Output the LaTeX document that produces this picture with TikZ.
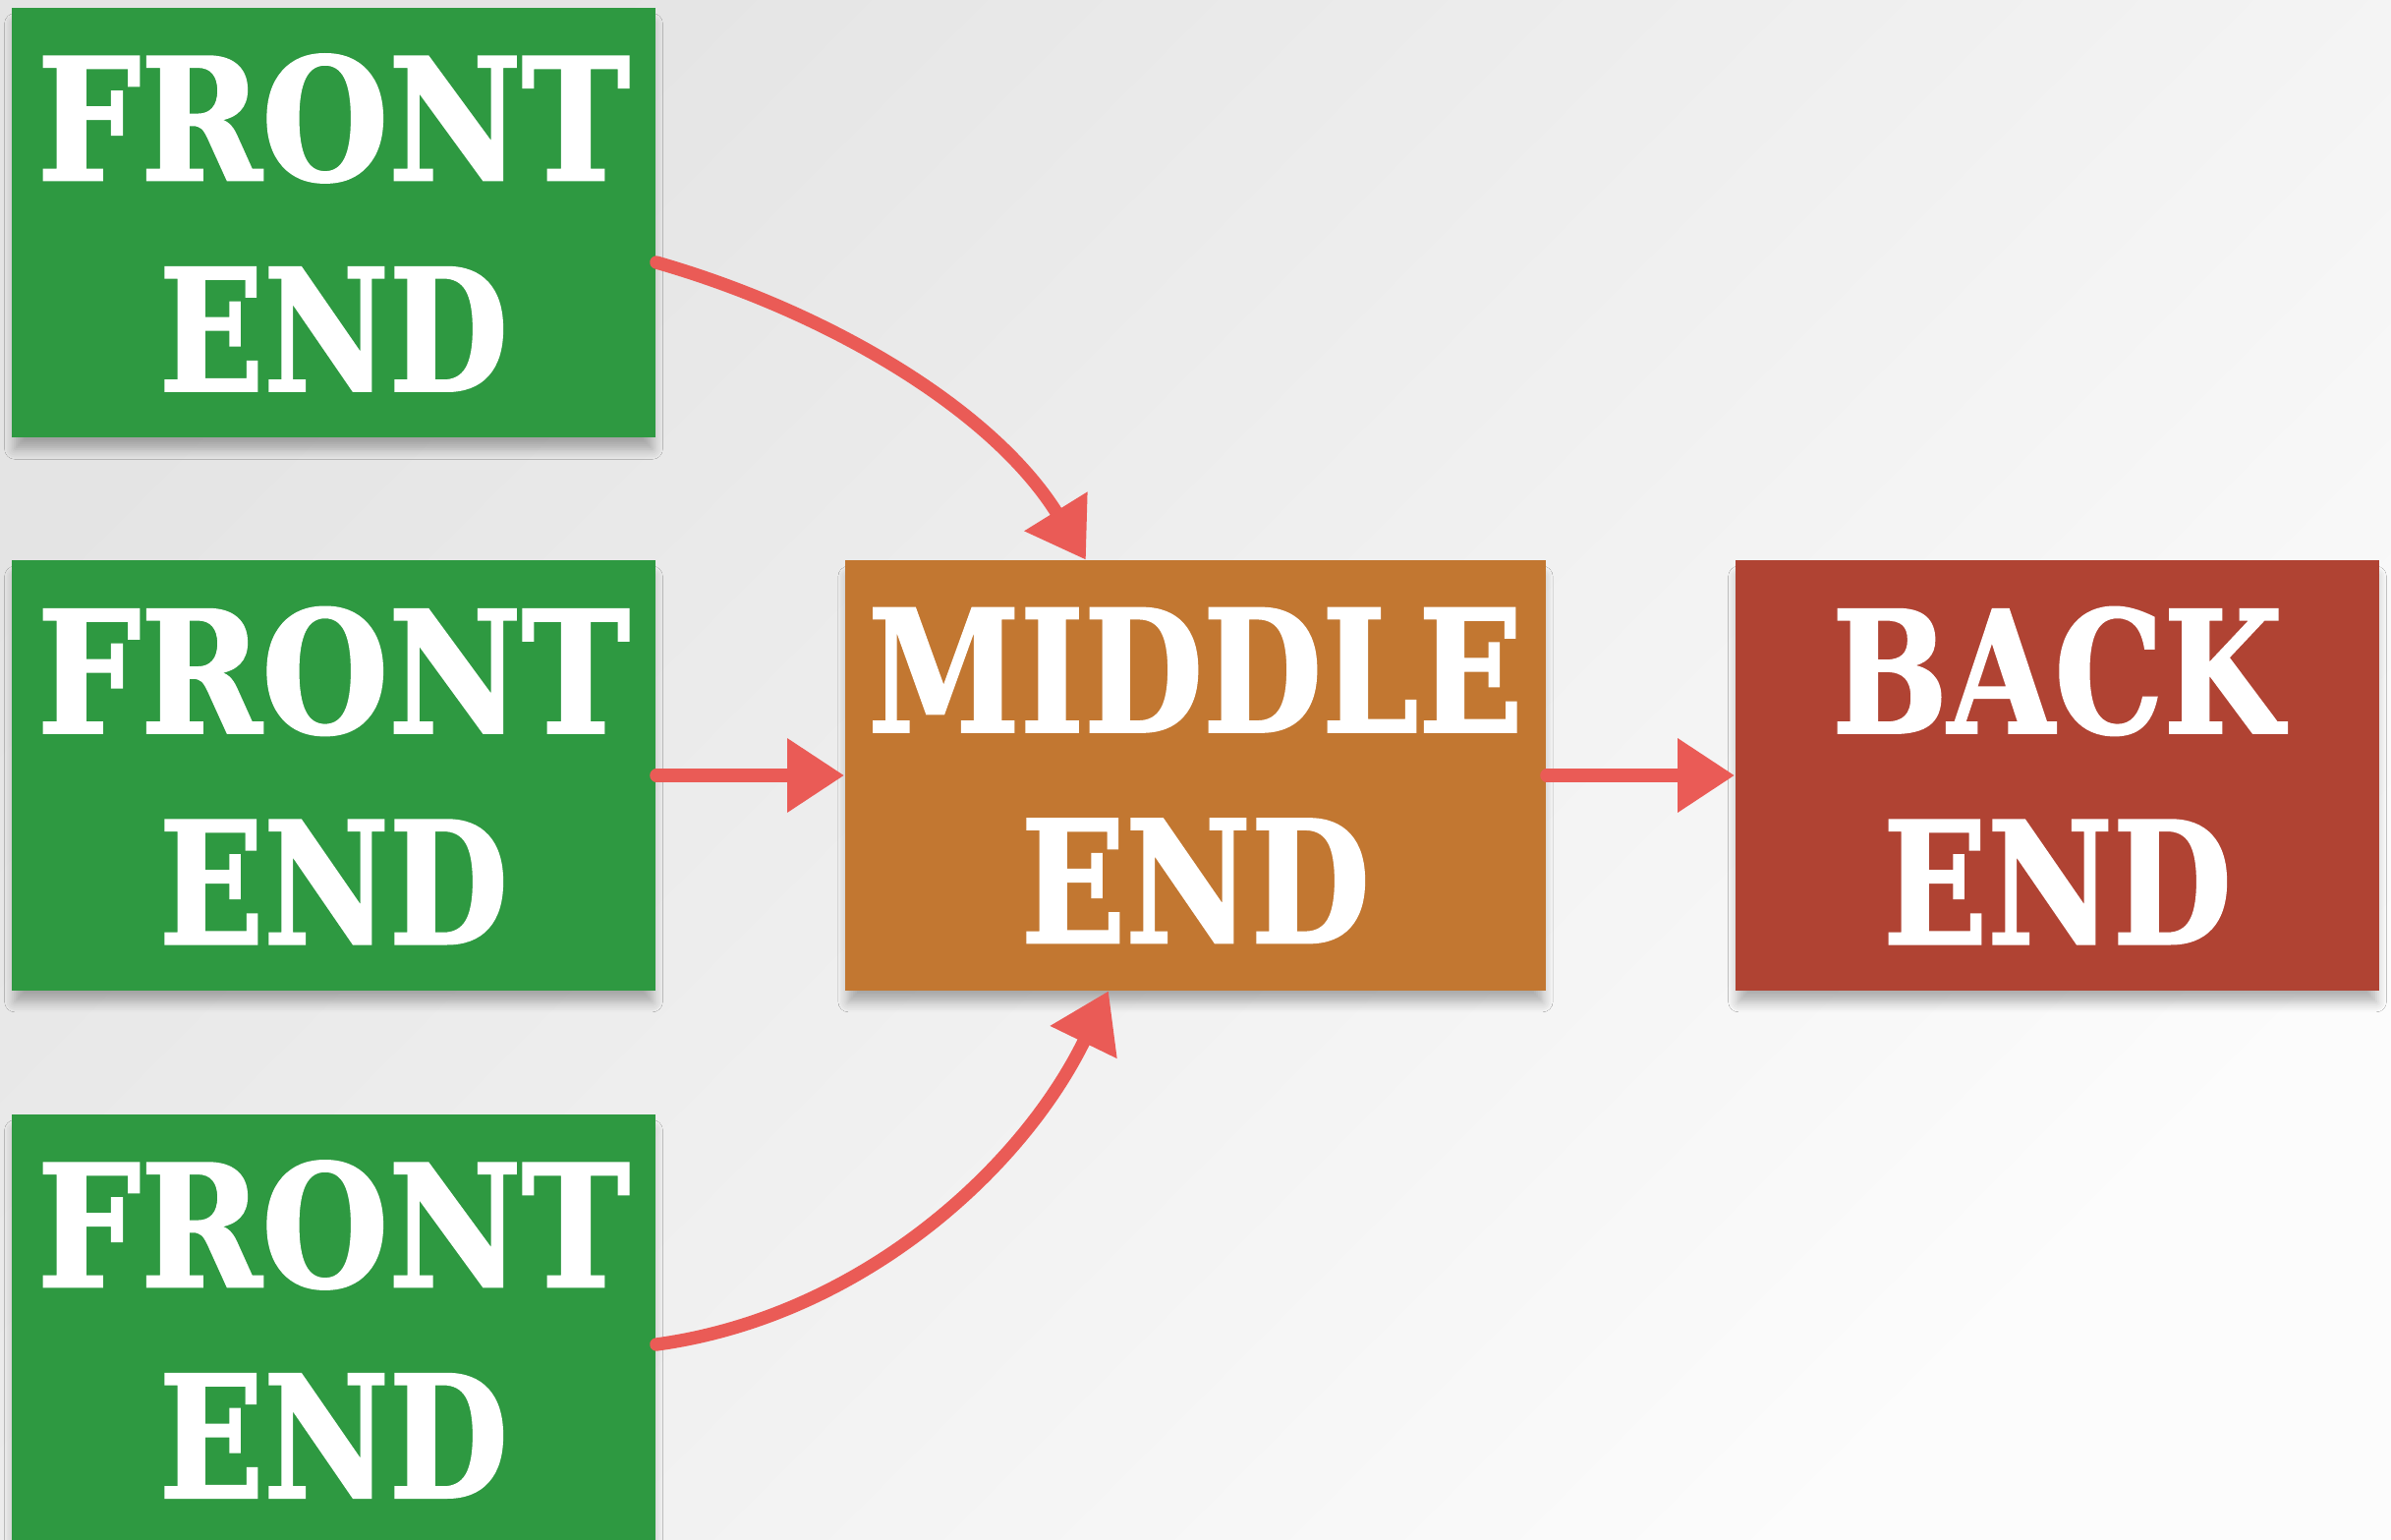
\documentclass[tikz,border=0pt]{standalone}
\usepackage{fontspec}
\usepackage{graphicx}
\setmainfont{DejaVu Serif}[BoldFeatures={FakeBold=1.5}]
\usetikzlibrary{arrows.meta,shadows.blur}
\definecolor{bgA}{HTML}{E4E4E4}
\definecolor{bgB}{HTML}{FCFCFC}
\definecolor{feGreen}{HTML}{2E9941}
\definecolor{midOrange}{HTML}{C27731}
\definecolor{beRed}{HTML}{B04333}
\definecolor{arrowRed}{HTML}{EA5B56}
\newcommand\stx[2][0.82]{\scalebox{#1}[1]{#2}}
\begin{document}
\begin{tikzpicture}[x=0.01cm,y=-0.01cm,
  box/.style={rectangle, minimum width=6.55cm, minimum height=4.37cm, inner sep=0pt,
    text=white, align=center, font=\fontsize{49}{61}\selectfont\bfseries,
    blur shadow={shadow xshift=0pt, shadow yshift=-4pt, shadow scale=0.99,
      shadow blur radius=3pt, shadow blur steps=6, shadow opacity=30}},
  flow/.style={draw=arrowRed, line width=3.8pt, line cap=round,
    -{Triangle[length=0.58cm,width=0.72cm]}}]
\useasboundingbox (0,0) rectangle (2433,1567);
\clip (0,0) rectangle (2433,1567);
\shade[top color=bgA, bottom color=bgB, shading angle=45] (0,0) rectangle (2433,1567);

\node[box, fill=feGreen] (fe1) at (339.5,226.5) {\stx[0.86]{FRONT}\\\stx[0.81]{END}};
\node[box, fill=feGreen] (fe2) at (339.5,789) {\stx[0.86]{FRONT}\\\stx[0.81]{END}};
\node[box, fill=feGreen] (fe3) at (339.5,1352.5) {\stx[0.86]{FRONT}\\\stx[0.81]{END}};
\node[box, fill=midOrange, minimum width=7.13cm] (mid) at (1216.5,789) {\stx[0.81]{MIDDLE}\\\stx[0.81]{END}};
\node[box, fill=beRed] (be) at (2093.5,789) {\stx[0.81]{BACK}\\\stx[0.81]{END}};

\coordinate (s1) at ([yshift=-0.405cm]fe1.east);
\coordinate (e1) at ([xshift=-1.115cm]mid.north);
\coordinate (s3) at ([yshift=-0.155cm]fe3.east);
\coordinate (e3) at ([xshift=-0.885cm]mid.south);

\draw[flow] (s1) .. controls (839,316) and (1009,415) .. (e1);
\draw[flow] (fe2.east) -- (mid.west);
\draw[flow] (s3) .. controls (874,1340) and (1039,1191) .. (e3);
\draw[flow] (mid.east) -- (be.west);
\end{tikzpicture}
\end{document}
